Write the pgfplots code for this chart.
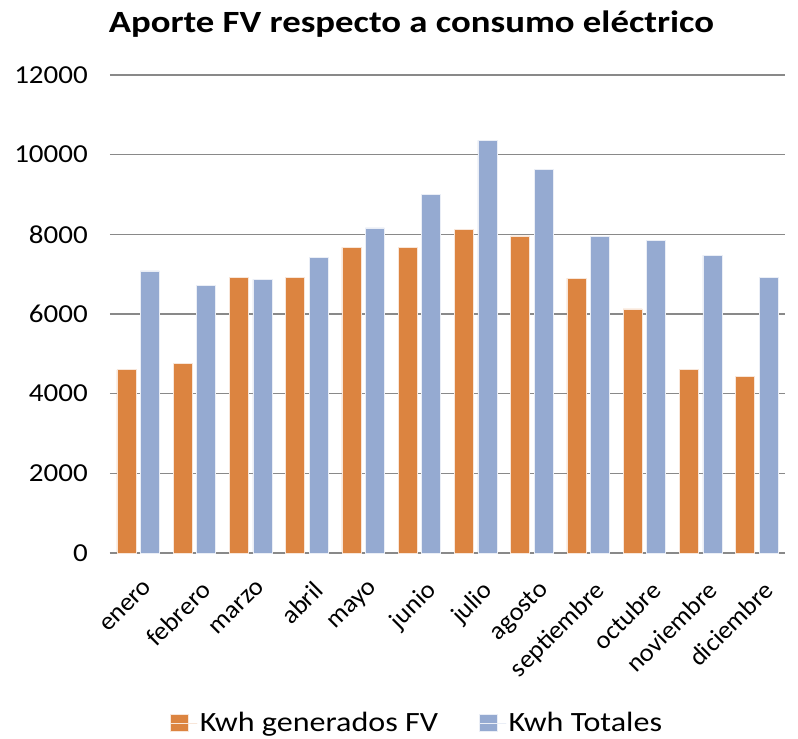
\documentclass[border=0pt]{standalone}
\usepackage{pgfplots}
\pgfplotsset{compat=1.18}
\usepackage{fontspec}
\setmainfont{Carlito}
\newfontfamily\titlefont[FakeStretch=1.19]{Carlito}
\newfontfamily\legfont[FakeStretch=1.15]{Carlito}
\newfontfamily\xfont[FakeStretch=1.04]{Carlito}
\newfontfamily\yfont[FakeStretch=1.12]{Carlito}
\definecolor{fvor}{HTML}{DC8440}
\definecolor{totbl}{HTML}{95AAD1}
\definecolor{gridg}{HTML}{898989}
\begin{document}
\begin{tikzpicture}
\useasboundingbox (-110bp,-186bp) rectangle (688bp,553bp);
\begin{axis}[
  at={(0,0)}, anchor=south west,
  scale only axis, width=675bp, height=478bp,
  ybar=4.6bp, bar width=19bp,
  xmin=-0.5, xmax=11.5, ymin=0, ymax=12000,
  xtick=data,
  xticklabels={enero,febrero,marzo,abril,mayo,junio,julio,agosto,septiembre,octubre,noviembre,diciembre},
  ytick={0,2000,...,12000},
  axis x line*=bottom, axis y line*=left,
  x axis line style={draw=gridg, line width=1.6pt},
  y axis line style={draw=none},
  ymajorgrids, grid style={draw=gridg, line width=1.6pt},
  major tick length=0pt,
  /pgf/number format/assume math mode=true,
  scaled y ticks=false,
  yticklabel={\pgfmathprintnumber[1000 sep={}]{\tick}},
  yticklabel style={font=\yfont\fontsize{26}{30}\selectfont, anchor=east, inner sep=0pt, xshift=-22bp},
  xticklabel style={font=\xfont\fontsize{25.5}{30}\selectfont, rotate=45, anchor=north east, inner sep=0pt, xshift=-14.5bp, yshift=-22.5bp},
  legend style={at={(0.455,-0.3557)}, anchor=center, draw=none, legend columns=2,
    font=\legfont\fontsize{28}{32}\selectfont,
    /tikz/every even column/.append style={column sep=39bp}},
  legend image code/.code={\fill[#1] (0bp,-8.5bp) rectangle (18bp,8.5bp); \path (0bp,0bp) -- (27bp,0bp);},
]
\addplot[fill=fvor, draw=white!80!fvor, line width=0.6pt] coordinates {
(0,4600) (1,4760) (2,6910) (3,6910) (4,7670) (5,7670) (6,8120) (7,7960) (8,6900) (9,6130) (10,4600) (11,4440)};
\addplot[fill=totbl, draw=white!80!totbl, line width=0.6pt] coordinates {
(0,7080) (1,6710) (2,6870) (3,7420) (4,8160) (5,9000) (6,10360) (7,9640) (8,7950) (9,7840) (10,7480) (11,6910)};
\legend{Kwh generados FV, Kwh Totales}
\end{axis}
\node[anchor=base, font=\titlefont\bfseries\fontsize{31}{36}\selectfont] at (301.5bp,520bp) {Aporte FV respecto a consumo eléctrico};
\end{tikzpicture}
\end{document}
